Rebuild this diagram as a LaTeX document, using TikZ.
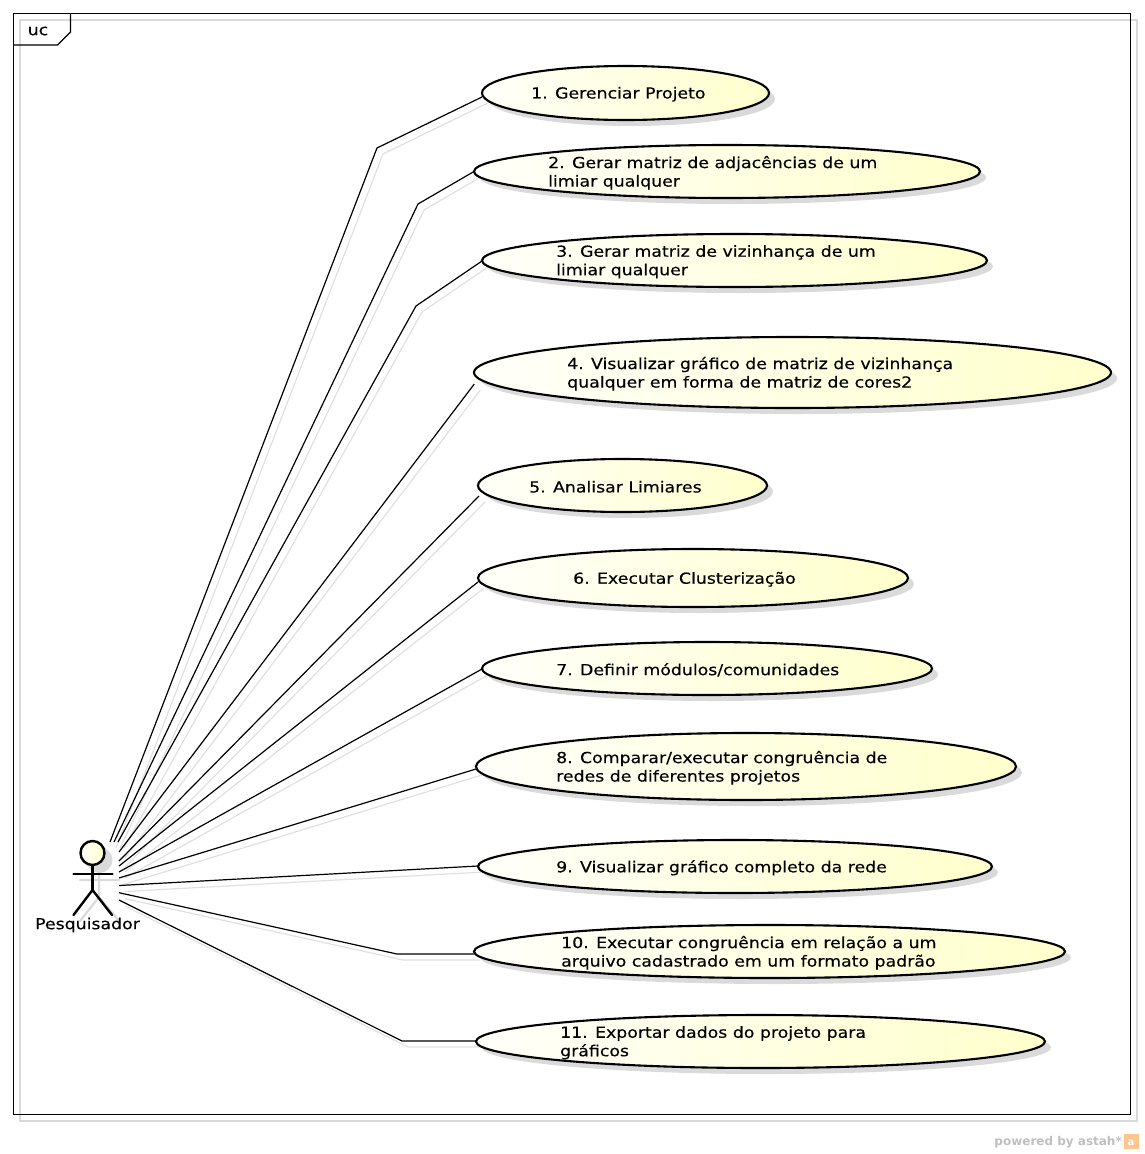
\documentclass[tikz,border=0pt]{standalone}
\usepackage{fontspec}
\setmainfont{DejaVu Sans}
\newfontfamily\lbl[FakeStretch=1.14,FakeBold=0.25]{DejaVu Sans}
\usetikzlibrary{shapes.geometric}
\definecolor{shadowgray}{HTML}{DADADA}
\definecolor{lineshadow}{HTML}{E0E0E0}
\definecolor{ucyellow}{HTML}{FFFFCC}
\definecolor{ucpale}{HTML}{FFFFFA}
\tikzset{
  x=1pt,y=-1pt,
  ucase/.style={ellipse,draw=black,line width=2.1pt,inner sep=0pt,left color=ucpale,right color=ucyellow,shading angle=90},
  ucshadow/.style={ellipse,fill=shadowgray,inner sep=0pt},
  uctext/.style={font=\lbl\fontsize{15.2}{18.5}\selectfont,align=left,anchor=west,inner sep=0pt,text=black},
  assoc/.style={draw=black,line width=1.2pt,line join=miter},
  assocs/.style={draw=lineshadow,line width=1.2pt},
  actorline/.style={draw=black,line width=2.4pt,line cap=round},
  actorshadow/.style={draw=shadowgray,line width=2.2pt,line cap=round},
}
% #1 name, #2 left, #3 right, #4 top, #5 bottom, #6 text x, #7 text
\newcommand{\ucnode}[7]{%
  \pgfmathsetmacro{\ucw}{#3-#2}\pgfmathsetmacro{\uch}{#5-#4}%
  \pgfmathsetmacro{\ucx}{(#3+#2)/2}\pgfmathsetmacro{\ucy}{(#5+#4)/2}%
  \node[ucshadow,minimum width=\ucw pt,minimum height=\uch pt] (#1s) at (\ucx+6,\ucy+6) {};
  \node[ucase,minimum width=\ucw pt,minimum height=\uch pt] (#1) at (\ucx,\ucy) {};
  \node[uctext] (#1t) at (#6,\ucy+1.3) {#7};
}
% shadow of a connector
\newcommand{\sh}[1]{([shift={(6pt,-6pt)}]#1)}
\begin{document}
\begin{tikzpicture}
\useasboundingbox (0,0) rectangle (1144,1154);
% frame
\draw[shadowgray,line width=1.2pt] (20,20) rectangle (1137,1121);
\draw[black,line width=1.2pt] (13.5,13.5) rectangle (1130.5,1114.5);
\draw[black,line width=1.2pt] (70.5,13.5) -- (70.5,32) -- (57.5,45) -- (13.5,45);
\node[font=\lbl\fontsize{15.2}{15}\selectfont,inner sep=0pt] (uc) at (38,31) {uc};
% actor-side ends and bends
\coordinate (p1) at (110,842);\coordinate (b1) at (377,148);
\coordinate (p2) at (114,842);\coordinate (b2) at (418,204);
\coordinate (p3) at (118,842);\coordinate (b3) at (416,306);
\coordinate (p4) at (119,852);
\coordinate (p5) at (119,861);
\coordinate (p6) at (119,866);
\coordinate (p7) at (119,872);
\coordinate (p8) at (119,878);
\coordinate (p9) at (119,885.5);
\coordinate (p10) at (119,892.7);\coordinate (b10) at (397,954);
\coordinate (p11) at (119,900);\coordinate (b11) at (402,1041);
% free ends beside the use cases
\coordinate (e1) at (482,97);
\coordinate (e2) at (474,171.5);
\coordinate (e3) at (482,261);
\coordinate (e4) at (474.3,384);
\coordinate (e5) at (479,496);
\coordinate (e6) at (478,582);
\coordinate (e7) at (482,669);
\coordinate (e8) at (476,769);
\coordinate (e9) at (478,866);
\coordinate (e10) at (474,954);
\coordinate (e11) at (476,1041);
% shadow of connectors
\draw[assocs] \sh{p1} -- \sh{b1} -- \sh{e1};
\draw[assocs] \sh{p2} -- \sh{b2} -- \sh{e2};
\draw[assocs] \sh{p3} -- \sh{b3} -- \sh{e3};
\draw[assocs] \sh{p4} -- \sh{e4};
\draw[assocs] \sh{p5} -- \sh{e5};
\draw[assocs] \sh{p6} -- \sh{e6};
\draw[assocs] \sh{p7} -- \sh{e7};
\draw[assocs] \sh{p8} -- \sh{e8};
\draw[assocs] \sh{p9} -- \sh{e9};
\draw[assocs] \sh{p10} -- \sh{b10} -- \sh{e10};
\draw[assocs] \sh{p11} -- \sh{b11} -- \sh{e11};
% connectors
\draw[assoc] (p1) -- (b1) -- (e1);
\draw[assoc] (p2) -- (b2) -- (e2);
\draw[assoc] (p3) -- (b3) -- (e3);
\draw[assoc] (p4) -- (e4);
\draw[assoc] (p5) -- (e5);
\draw[assoc] (p6) -- (e6);
\draw[assoc] (p7) -- (e7);
\draw[assoc] (p8) -- (e8);
\draw[assoc] (p9) -- (e9);
\draw[assoc] (p10) -- (b10) -- (e10);
\draw[assoc] (p11) -- (b11) -- (e11);
% use cases
\ucnode{u1}{482}{769}{66}{120}{531}{1. Gerenciar Projeto}
\ucnode{u2}{474}{980}{145}{198}{548}{2. Gerar matriz de adjacências de um\\limiar qualquer}
\ucnode{u3}{482}{987}{234}{287}{556}{3. Gerar matriz de vizinhança de um\\limiar qualquer}
\ucnode{u4}{474}{1111}{337}{408}{567}{4. Visualizar gráfico de matriz de vizinhança\\qualquer em forma de matriz de cores2}
\ucnode{u5}{478}{767}{459}{512}{529}{5. Analisar Limiares}
\ucnode{u6}{478}{908}{549}{607}{573}{6. Executar Clusterização}
\ucnode{u7}{482}{932}{642}{695}{556}{7. Definir módulos/comunidades}
\ucnode{u8}{476}{1016}{733}{800}{556}{8. Comparar/executar congruência de\\redes de diferentes projetos}
\ucnode{u9}{478}{992}{840}{893}{556}{9. Visualizar gráfico completo da rede}
\ucnode{u10}{474}{1065}{925}{978}{561}{10. Executar congruência em relação a um\\arquivo cadastrado em um formato padrão}
\ucnode{u11}{476}{1045}{1015}{1068}{560}{11. Exportar dados do projeto para\\gráficos}
% actor
\fill[shadowgray] (99.5,860) circle (13);
\draw[actorshadow] (99,872)--(99,897) (80,880)--(119,880) (80,921)--(99,897)--(119,921);
\node[circle,draw=black,line width=2.4pt,left color=ucpale,right color=ucyellow,shading angle=90,minimum size=24pt,inner sep=0pt] (head) at (92.5,853) {};
\coordinate (hip) at (92.5,890);
\coordinate (la) at (73.5,874);\coordinate (ra) at (112.5,874);
\coordinate (lf) at (73.5,915);\coordinate (rf) at (112,915);
\draw[actorline] (head) -- (hip);
\draw[actorline] (la) -- (ra);
\draw[actorline] (lf) -- (hip) -- (rf);
\node[font=\lbl\fontsize{15.2}{15}\selectfont,inner sep=0pt] (pesq) at (87.5,925) {Pesquisador};
% footer
\node[font=\bfseries\fontsize{12}{14}\selectfont,text=black!25,anchor=east,inner sep=0pt] (pw) at (1122,1142) {powered by astah*};
\fill[orange!45] (1124,1134) rectangle (1139,1149);
\node[font=\bfseries\fontsize{10}{10}\selectfont,text=white,inner sep=0pt] (logo) at (1131,1143) {a};
\end{tikzpicture}
\end{document}
